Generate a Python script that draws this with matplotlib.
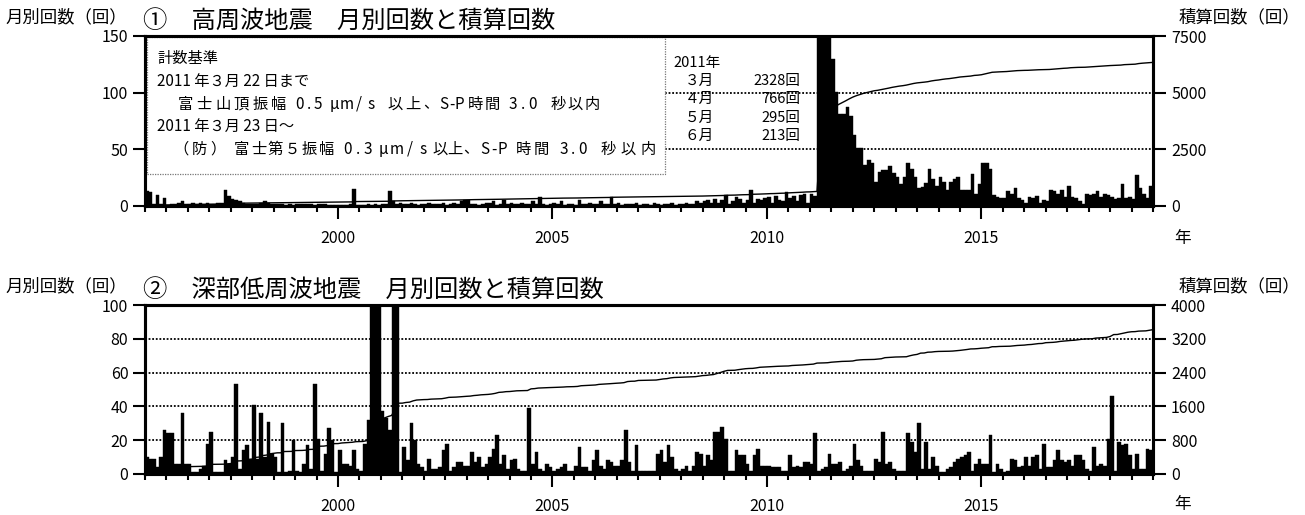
import numpy as np
import matplotlib
matplotlib.use("Agg")
import matplotlib.pyplot as plt
from matplotlib.patches import Rectangle

plt.rcParams['font.family'] = ['Noto Sans CJK JP', 'DejaVu Sans']

start_year = 1995.5   # first bar: July 1995
end_year = 2019.0

# ---------------- Panel 1: high-frequency earthquakes, monthly counts ----------------
hf_1995 = [13, 12, 2, 10, 2, 7]            # Jul-Dec
hf_1996 = [1, 2, 2, 3, 4, 2, 2, 3, 2, 3, 2, 3]
hf_1997 = [2, 2, 3, 3, 14, 9, 6, 5, 4, 3, 2, 2]
hf_1998 = [2, 2, 3, 4, 3, 2, 2, 2, 2, 1, 2, 1]
hf_1999 = [2, 2, 2, 2, 2, 1, 2, 2, 2, 1, 1, 1]
hf_2000 = [1, 1, 1, 2, 15, 1, 1, 1, 2, 1, 2, 1]
hf_2001 = [2, 2, 13, 4, 2, 3, 2, 2, 3, 2, 1, 2]
hf_2002 = [2, 3, 2, 2, 2, 3, 1, 2, 3, 2, 4, 5]
hf_2003 = [5, 2, 2, 1, 2, 3, 3, 4, 1, 2, 5, 2]
hf_2004 = [3, 2, 2, 3, 2, 2, 4, 2, 8, 2, 1, 2]
hf_2005 = [3, 2, 4, 1, 2, 2, 1, 5, 2, 2, 3, 2]
hf_2006 = [2, 4, 2, 2, 8, 2, 3, 1, 2, 2, 2, 3]
hf_2007 = [1, 2, 2, 1, 3, 2, 1, 2, 2, 3, 1, 2]
hf_2008 = [2, 3, 2, 2, 4, 3, 4, 5, 3, 6, 3, 5]
hf_2009 = [10, 2, 4, 8, 6, 3, 5, 14, 3, 6, 5, 7]
hf_2010 = [8, 3, 9, 5, 4, 12, 7, 9, 4, 10, 11, 3]
hf_2011 = [11, 9, 2328, 766, 295, 213, 130, 101, 81, 81, 87, 79]
hf_2012 = [63, 51, 51, 36, 41, 38, 21, 30, 32, 32, 35, 29]
hf_2013 = [26, 19, 26, 38, 33, 26, 16, 17, 20, 33, 24, 18]
hf_2014 = [26, 21, 14, 21, 24, 26, 14, 14, 14, 28, 11, 19]
hf_2015 = [38, 38, 33, 10, 8, 7, 7, 13, 11, 16, 7, 5]
hf_2016 = [3, 8, 7, 9, 3, 5, 4, 14, 13, 11, 14, 8]
hf_2017 = [18, 8, 7, 4, 2, 11, 10, 11, 13, 8, 11, 10]
hf_2018 = [8, 6, 7, 19, 7, 8, 6, 27, 16, 11, 7, 18]

# ---------------- Panel 2: deep low-frequency earthquakes, monthly counts ----------------
lf_1995 = [10, 9, 9, 4, 10, 26]            # Jul-Dec
lf_1996 = [24, 24, 6, 6, 36, 6, 6, 1, 1, 3, 5, 18]
lf_1997 = [25, 1, 1, 1, 8, 6, 10, 53, 3, 14, 17, 9]
lf_1998 = [41, 9, 36, 10, 31, 12, 10, 1, 30, 1, 2, 20]
lf_1999 = [2, 1, 6, 17, 3, 53, 21, 2, 12, 27, 20, 1]
lf_2000 = [14, 6, 6, 5, 14, 3, 2, 18, 32, 130, 210, 130]
lf_2001 = [37, 33, 26, 160, 130, 1, 16, 8, 30, 20, 6, 4]
lf_2002 = [2, 9, 3, 3, 4, 14, 18, 2, 4, 7, 7, 5]
lf_2003 = [5, 13, 7, 10, 4, 6, 10, 15, 23, 6, 11, 3]
lf_2004 = [8, 9, 3, 2, 2, 39, 6, 13, 3, 2, 6, 4]
lf_2005 = [2, 3, 4, 6, 2, 2, 5, 16, 4, 4, 2, 8]
lf_2006 = [14, 5, 3, 8, 7, 5, 5, 8, 26, 7, 2, 17]
lf_2007 = [2, 2, 2, 2, 2, 12, 14, 7, 17, 10, 3, 2]
lf_2008 = [3, 5, 2, 5, 13, 12, 5, 11, 8, 25, 25, 28]
lf_2009 = [21, 2, 2, 14, 11, 11, 6, 2, 11, 15, 5, 5]
lf_2010 = [5, 4, 4, 4, 2, 2, 11, 4, 5, 4, 7, 7]
lf_2011 = [6, 24, 2, 3, 4, 12, 6, 6, 7, 2, 3, 5]
lf_2012 = [18, 8, 5, 2, 2, 2, 9, 7, 25, 6, 7, 3]
lf_2013 = [2, 2, 2, 24, 19, 13, 30, 3, 19, 3, 10, 5]
lf_2014 = [1, 1, 3, 4, 7, 9, 10, 11, 13, 2, 6, 9]
lf_2015 = [6, 6, 23, 1, 6, 3, 1, 2, 9, 8, 4, 5]
lf_2016 = [10, 5, 10, 11, 3, 18, 4, 4, 8, 14, 8, 7]
lf_2017 = [8, 5, 11, 11, 8, 3, 2, 16, 5, 6, 5, 21]
lf_2018 = [46, 2, 19, 17, 18, 11, 3, 12, 3, 3, 15, 14]

hf_counts = np.concatenate([hf_1995, hf_1996, hf_1997, hf_1998, hf_1999, hf_2000,
                            hf_2001, hf_2002, hf_2003, hf_2004, hf_2005, hf_2006,
                            hf_2007, hf_2008, hf_2009, hf_2010, hf_2011, hf_2012,
                            hf_2013, hf_2014, hf_2015, hf_2016, hf_2017, hf_2018])
lf_counts = np.concatenate([lf_1995, lf_1996, lf_1997, lf_1998, lf_1999, lf_2000,
                            lf_2001, lf_2002, lf_2003, lf_2004, lf_2005, lf_2006,
                            lf_2007, lf_2008, lf_2009, lf_2010, lf_2011, lf_2012,
                            lf_2013, lf_2014, lf_2015, lf_2016, lf_2017, lf_2018])

x_major = [2000, 2005, 2010, 2015]
hf_left_ticks = [0, 50, 100, 150]
hf_right_ticks = [0, 2500, 5000, 7500]
hf_grid = [50, 100]
lf_left_ticks = [0, 20, 40, 60, 80, 100]
lf_right_ticks = [0, 800, 1600, 2400, 3200, 4000]
lf_grid = [20, 40, 60, 80]

month_labels = ["３月", "４月", "５月", "６月"]
big_months = hf_2011[2:6]

W, H = 1305, 515
AX_L, AX_R = 145, 1153
fig = plt.figure(figsize=(W / 100, H / 100), dpi=100)

LS_DOT = (0, (1, 1))
FS_TICK = 11.5


def panel(left, top, right, bottom, counts, lticks, rticks, grid_vals, grid_xmin):
    ax = fig.add_axes([left / W, 1 - bottom / H, (right - left) / W, (bottom - top) / H])
    n = len(counts)
    x = start_year + np.arange(n) / 12.0
    ax.bar(x, counts, width=1 / 12.0, align='edge', color='black',
           edgecolor='black', linewidth=0.3, zorder=3)
    ax.set_xlim(start_year, end_year)
    ax.set_ylim(lticks[0], lticks[-1])
    for g in grid_vals:
        ax.axhline(g, xmin=grid_xmin, xmax=1, color='black', lw=1.3, ls=LS_DOT, zorder=1)
    ax.set_yticks(lticks)
    ax.set_yticklabels([str(v) for v in lticks])
    ax.set_xticks(x_major)
    ax.set_xticklabels([str(v) for v in x_major])
    ax.set_xticks(np.arange(start_year, end_year + 0.01, 0.5), minor=True)
    ax.tick_params(axis='y', which='major', direction='out', length=9, width=1.5,
                   labelsize=FS_TICK, pad=3)
    ax.tick_params(axis='x', which='major', direction='out', length=9, width=1.5,
                   labelsize=FS_TICK, pad=8)
    ax.tick_params(axis='x', which='minor', direction='out', length=4.5, width=1.5)
    for s in ax.spines.values():
        s.set_linewidth(2.2)

    axr = ax.twinx()
    axr.set_ylim(rticks[0], rticks[-1])
    cum = np.cumsum(counts)
    axr.plot(np.r_[start_year, x + 1 / 12.0], np.r_[0, cum], color='black', lw=1.0, zorder=2)
    axr.set_yticks(rticks)
    axr.set_yticklabels([str(v) for v in rticks])
    axr.tick_params(axis='y', direction='out', length=9, width=1.5, labelsize=FS_TICK, pad=4)
    for s in axr.spines.values():
        s.set_linewidth(2.2)
    return ax, axr


ax1, ax1r = panel(AX_L, 36, AX_R, 206, hf_counts, hf_left_ticks, hf_right_ticks, hf_grid, 0.516)
ax2, ax2r = panel(AX_L, 305, AX_R, 474, lf_counts, lf_left_ticks, lf_right_ticks, lf_grid, 0.0)


def fx(px):
    return (px - AX_L) / (AX_R - AX_L)


# ----- info box in panel 1 -----
ax1.add_patch(Rectangle((0.002, 0.188), 0.514, 0.805, transform=ax1.transAxes,
                        facecolor='white', edgecolor='#777777', lw=0.9, ls=LS_DOT,
                        zorder=2))
FS_BOX = 11
for px, py, s in [(157, 0.865, "計数基準"),
                  (157, 0.733, "2011 年３月 22 日まで"),
                  (157, 0.468, "2011 年３月 23 日～")]:
    ax1.text(fx(px), py, s, transform=ax1.transAxes, fontsize=FS_BOX, va='center',
             ha='left', zorder=4)


def spaced_line(y, segments):
    # each segment is spread evenly over its pixel span (monospace-like look)
    for x0, x1, s in segments:
        pitch = (x1 - x0) / len(s)
        for i, ch in enumerate(s):
            ax1.text(fx(x0 + pitch * (i + 0.5)), y, ch, transform=ax1.transAxes,
                     fontsize=FS_BOX, va='center', ha='center', zorder=4)


spaced_line(0.600, [(176, 288, "富士山頂振幅"), (295, 322, "0.5"), (328, 377, "μm/s"),
                    (386, 440, "以上、"), (440, 463, "S-P"), (467, 501, "時間"),
                    (508, 537, "3.0"), (550, 600, "秒以内")])
spaced_line(0.335, [(172, 227, "（防）"), (233, 335, "富士第５振幅"), (343, 373, "0.3"),
                    (377, 430, "μm/s"), (432, 478, "以上、"), (480, 507, "S-P"),
                    (515, 550, "時間"), (559, 587, "3.0"), (598, 658, "秒以内")])

ax1.text(fx(673), 0.841, "2011年", transform=ax1.transAxes, fontsize=10.5, va='center',
         ha='left', zorder=4)
row_y = [0.735, 0.629, 0.518, 0.412]
for yy, ml, v in zip(row_y, month_labels, big_months):
    ax1.text(fx(685), yy, ml, transform=ax1.transAxes, fontsize=10.5, va='center',
             ha='left', zorder=4)
    ax1.text(fx(800), yy, f"{v}回", transform=ax1.transAxes, fontsize=10.5, va='center',
             ha='right', zorder=4)

# ----- titles and axis captions -----
for dy, title in [(0, "①　高周波地震　月別回数と積算回数"),
                  (269, "②　深部低周波地震　月別回数と積算回数")]:
    fig.text(5 / W, 1 - (17 + dy) / H, "月別回数（回）", fontsize=12.5, va='center', ha='left')
    fig.text(143 / W, 1 - (21 + dy) / H, title, fontsize=17.5, va='center', ha='left')
    fig.text(1300 / W, 1 - (17 + dy) / H, "積算回数（回）", fontsize=12.5, va='center', ha='right')
fig.text(1183 / W, 1 - 238 / H, "年", fontsize=12, va='center', ha='center')
fig.text(1183 / W, 1 - 505 / H, "年", fontsize=12, va='center', ha='center')

fig.savefig("out.png", dpi=100)
